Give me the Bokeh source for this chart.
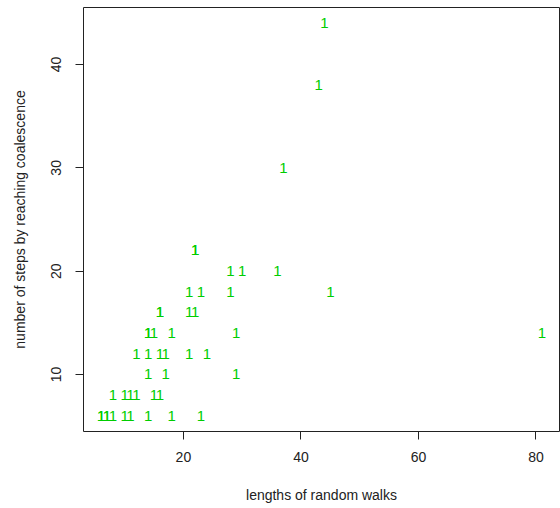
from bokeh.plotting import figure
from bokeh.models import Range1d, FixedTicker, ColumnDataSource
from bokeh.core.properties import value
from bokeh.embed import file_html
from bokeh.resources import INLINE

# lengths of random walks (x) and steps to coalescence (y)
walk_length = [6, 6, 7, 7, 8, 10, 11, 14, 18, 23,
               8, 10, 11, 12, 15, 16,
               14, 17, 29,
               12, 14, 16, 17, 21, 24,
               14, 14, 15, 18, 29, 81,
               16, 16, 21, 22,
               21, 23, 28, 45,
               28, 30, 36,
               22, 22,
               37, 43, 44]
steps = [6, 6, 6, 6, 6, 6, 6, 6, 6, 6,
         8, 8, 8, 8, 8, 8,
         10, 10, 10,
         12, 12, 12, 12, 12, 12,
         14, 14, 14, 14, 14, 14,
         16, 16, 16, 16,
         18, 18, 18, 18,
         20, 20, 20,
         22, 22,
         30, 38, 44]
labels = ["1"] * len(walk_length)
x_ticks = [20, 40, 60, 80]
y_ticks = [10, 20, 30, 40]

FONT = "Liberation Sans"

def padded(vals):
    lo, hi = min(vals), max(vals)
    pad = (hi - lo) * 0.04
    return Range1d(lo - pad, hi + pad)

src = ColumnDataSource(dict(x=walk_length, y=steps, t=labels))

p = figure(width=560, height=508, output_backend="svg", toolbar_location=None,
           x_range=padded(walk_length), y_range=padded(steps),
           min_border_left=83, min_border_right=1, min_border_top=7, min_border_bottom=77)
p.grid.visible = False
p.background_fill_color = "white"
p.border_fill_color = "white"
p.outline_line_color = "#222222"
p.outline_line_width = 1

p.text(x="x", y="y", text="t", source=src, text_color="#00CD00",
       text_font=value(FONT), text_font_size="15px",
       text_align="center", text_baseline="middle")

for ax in (p.xaxis[0], p.yaxis[0]):
    ax.axis_line_color = None
    ax.major_tick_line_color = "#222222"
    ax.major_tick_out = 8
    ax.major_tick_in = 0
    ax.minor_tick_line_color = None
    ax.major_label_text_font = FONT
    ax.major_label_text_font_size = "14px"
    ax.major_label_text_color = "#222222"
    ax.axis_label_text_font = FONT
    ax.axis_label_text_font_size = "14px"
    ax.axis_label_text_font_style = "normal"
    ax.axis_label_text_color = "#222222"

p.xaxis.ticker = FixedTicker(ticks=x_ticks)
p.yaxis.ticker = FixedTicker(ticks=y_ticks)
p.xaxis.axis_label = "lengths of random walks"
p.yaxis.axis_label = "number of steps by reaching coalescence"
p.yaxis.major_label_orientation = "vertical"
p.xaxis.major_label_standoff = 12
p.yaxis.major_label_standoff = 14
p.xaxis.axis_label_standoff = 22
p.yaxis.axis_label_standoff = 21

open("out.html", "w").write(file_html(p, INLINE))
